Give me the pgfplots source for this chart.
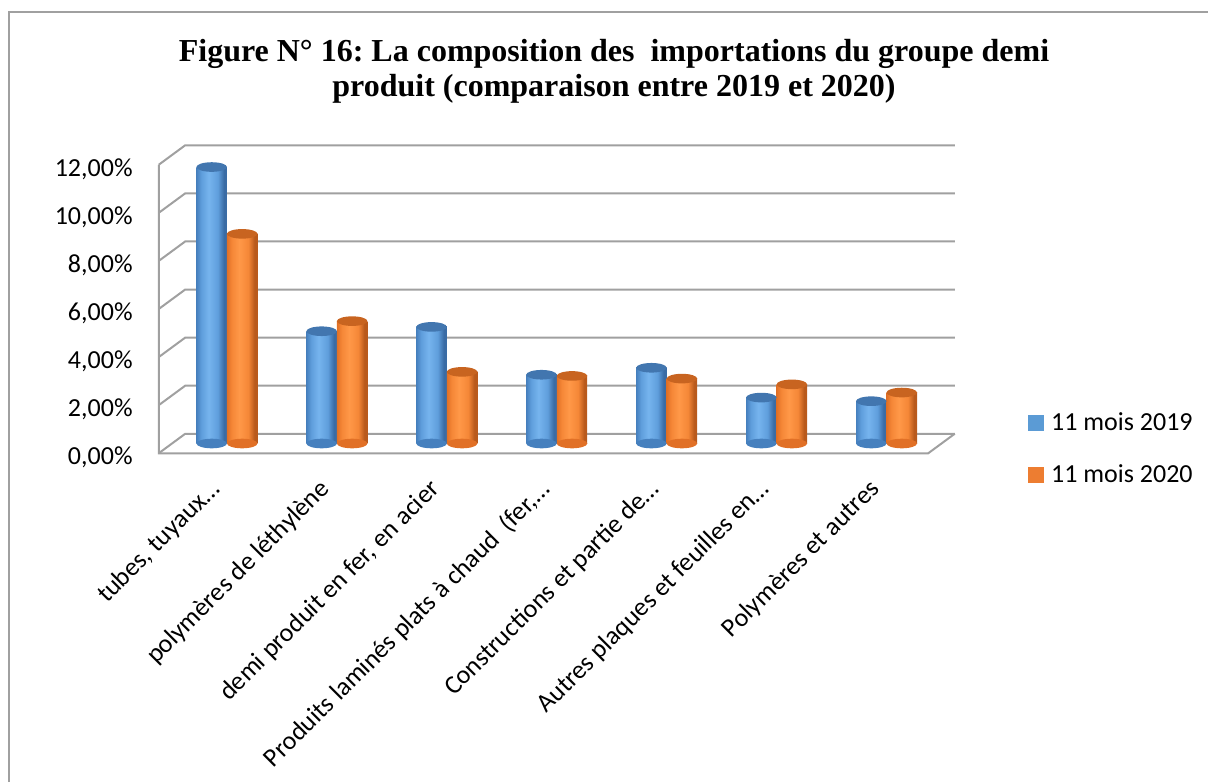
\documentclass[border=0pt]{standalone}
\usepackage{fontspec}
\setmainfont{Carlito}
\newfontfamily\titlefont{Liberation Serif}
\usepackage{pgfplots}
\pgfplotsset{compat=1.18}
\definecolor{gridc}{RGB}{160,160,160}
\definecolor{bL}{RGB}{70,128,190}
\definecolor{bM}{RGB}{95,158,220}
\definecolor{bH}{RGB}{118,180,238}
\definecolor{bR}{RGB}{58,108,165}
\definecolor{bC}{RGB}{66,118,175}
\definecolor{oL}{RGB}{225,112,38}
\definecolor{oM}{RGB}{245,135,55}
\definecolor{oH}{RGB}{255,152,72}
\definecolor{oR}{RGB}{185,90,28}
\definecolor{oC}{RGB}{200,100,32}
\definecolor{legB}{RGB}{91,155,213}
\definecolor{legO}{RGB}{237,125,49}
\pgfdeclarehorizontalshading{bcyl}{100bp}{color(0bp)=(bL); color(25bp)=(bL); color(33bp)=(bM); color(45bp)=(bH); color(60bp)=(bM); color(70bp)=(bR); color(75bp)=(bR); color(100bp)=(bR)}
\pgfdeclarehorizontalshading{ocyl}{100bp}{color(0bp)=(oL); color(25bp)=(oL); color(33bp)=(oM); color(45bp)=(oH); color(60bp)=(oM); color(70bp)=(oR); color(75bp)=(oR); color(100bp)=(oR)}
\pgfdeclareplotmark{cap}{\pgfpathellipse{\pgfpointorigin}{\pgfqpoint{7.625pt}{0pt}}{\pgfqpoint{0pt}{2.4pt}}\pgfusepathqfill}
\newcommand\bbar[2]{\addplot[ybar, bar width=0.2773, bar shift=-0.13864, draw=none, shade, shading=bcyl, forget plot] coordinates {(#1,#2)};}
\newcommand\obar[2]{\addplot[ybar, bar width=0.2773, bar shift=0.13864, draw=none, shade, shading=ocyl, forget plot] coordinates {(#1,#2)};}
\begin{document}
\frenchspacing
\begin{tikzpicture}
\useasboundingbox (0,0) rectangle (604pt,391pt);
\draw[gridc, line width=0.7pt] (4.5pt,0) -- (4.5pt,385pt) -- (604pt,385pt);
\node[anchor=base, font=\titlefont\bfseries\fontsize{16}{19}\selectfont] at (307pt,360.2pt) {Figure N° 16: La composition des\ \ importations du groupe demi};
\node[anchor=base, font=\titlefont\bfseries\fontsize{16}{19}\selectfont] at (307pt,342.5pt) {produit (comparaison entre 2019 et 2020)};
\begin{axis}[
  at={(86pt,169.25pt)}, anchor=south west,
  scale only axis, width=384.75pt, height=144.25pt,
  xmin=-0.5, xmax=6.5, ymin=0, ymax=12, clip=false,
  axis line style={draw=none}, major tick length=0pt,
  xtick={0,...,6},
  xticklabels={{tubes, tuyaux…},{polymères de léthylène},{demi produit en fer, en acier},{Produits laminés plats à chaud\ \ (fer,…},{Constructions et partie de…},{Autres plaques et feuilles en…},{Polymères et autres}},
  xticklabel style={xshift=-9.5pt, yshift=-16.75pt, rotate=45, anchor=north east, inner sep=0pt, font=\fontsize{13}{15}\selectfont},
  ytick={0,2,...,12},
  yticklabel={\pgfmathprintnumber{\tick}\%},
  yticklabel style={/pgf/number format/fixed, /pgf/number format/fixed zerofill, /pgf/number format/precision=2, /pgf/number format/use comma, /pgf/number format/assume math mode=true, inner sep=0pt, xshift=-19.5pt, yshift=-7pt, font=\fontsize{13}{15}\selectfont},
  legend style={at={(1.1124,-0.019)}, anchor=west, draw=none, fill=none, inner sep=0pt, row sep=15.5pt, font=\fontsize{13}{15}\selectfont, nodes={inner sep=0pt}},
  legend cell align=left,
  /tikz/every odd column/.append style={column sep=3.5pt},
]
\pgfplotsinvokeforeach{0,2,...,12}{
  \draw[gridc, line width=1pt] ([shift={(-6.625pt,-4.875pt)}]axis cs:-0.5,#1) -- ([shift={(6.625pt,4.875pt)}]axis cs:-0.5,#1) -- ([shift={(6.625pt,4.875pt)}]axis cs:6.5,#1);
}
\draw[gridc, line width=1pt] ([shift={(-6.625pt,-4.875pt)}]axis cs:-0.5,12) -- ([shift={(-6.625pt,-4.875pt)}]axis cs:-0.5,0) -- ([shift={(-6.625pt,-4.875pt)}]axis cs:6.5,0) -- ([shift={(6.625pt,4.875pt)}]axis cs:6.5,0);
% bottom caps
\addplot[only marks, mark=cap, color=bL, xshift=-7.625pt, forget plot] coordinates {(0,0) (1,0) (2,0) (3,0) (4,0) (5,0) (6,0)};
\addplot[only marks, mark=cap, color=oL, xshift=7.625pt, forget plot] coordinates {(0,0) (1,0) (2,0) (3,0) (4,0) (5,0) (6,0)};
% bars 11 mois 2019
\bbar{0}{11.5}\bbar{1}{4.67}\bbar{2}{4.85}\bbar{3}{2.86}\bbar{4}{3.15}\bbar{5}{1.91}\bbar{6}{1.76}
% bars 11 mois 2020
\obar{0}{8.72}\obar{1}{5.09}\obar{2}{2.98}\obar{3}{2.81}\obar{4}{2.70}\obar{5}{2.46}\obar{6}{2.12}
% top caps
\addplot[only marks, mark=cap, color=bC, xshift=-7.625pt, forget plot] coordinates {(0,11.5) (1,4.67) (2,4.85) (3,2.86) (4,3.15) (5,1.91) (6,1.76)};
\addplot[only marks, mark=cap, color=oC, xshift=7.625pt, forget plot] coordinates {(0,8.72) (1,5.09) (2,2.98) (3,2.81) (4,2.70) (5,2.46) (6,2.12)};
\addlegendimage{legend image code/.code={\fill[legB] (0pt,-3.75pt) rectangle (7.5pt,3.75pt);}}
\addlegendentry{11 mois 2019}
\addlegendimage{legend image code/.code={\fill[legO] (0pt,-3.75pt) rectangle (7.5pt,3.75pt);}}
\addlegendentry{11 mois 2020}
\end{axis}
\end{tikzpicture}
\end{document}
